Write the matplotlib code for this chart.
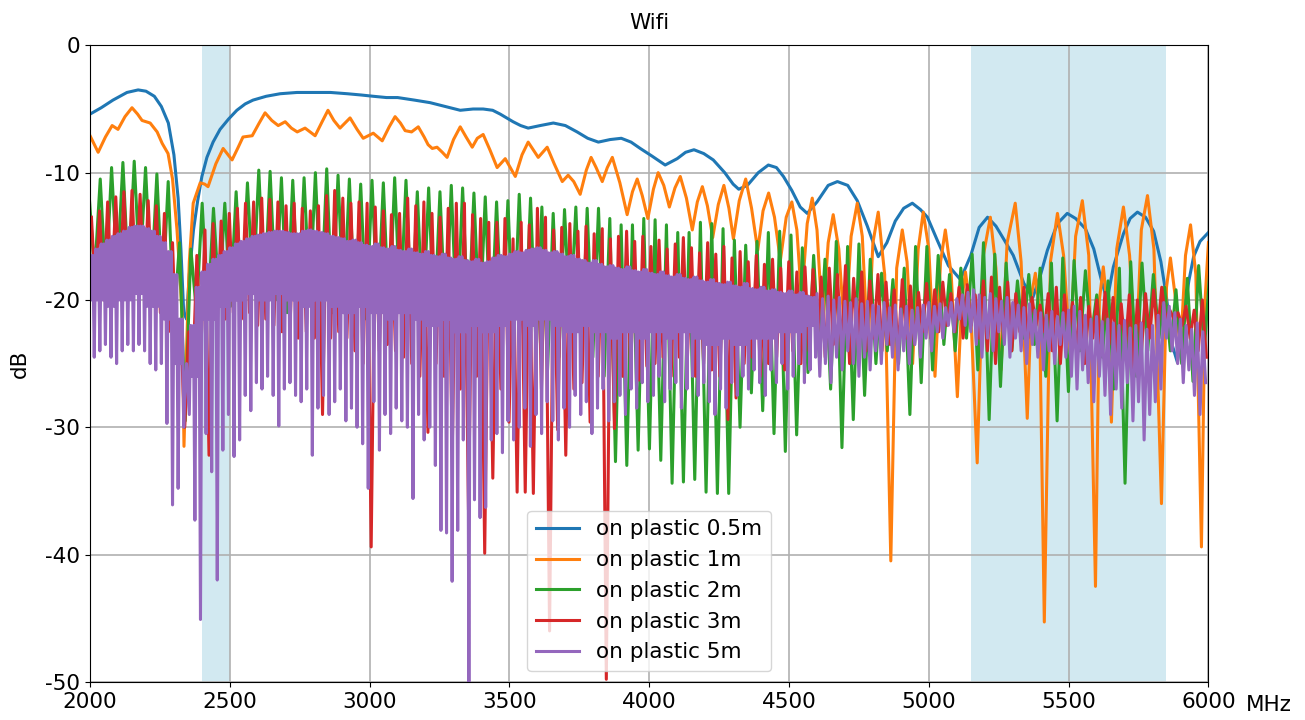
import matplotlib
matplotlib.use('Agg')
import matplotlib.pyplot as plt
import numpy as np

# ---- data (MHz, dB) ----
blue_freq = [2000, 2040, 2082, 2132, 2172, 2200, 2230, 2255, 2280, 2300, 2315, 2325, 2335, 2345, 2355,
             2370, 2385, 2400, 2418, 2440, 2465, 2495, 2525, 2555, 2583, 2630, 2680, 2740, 2800, 2860,
             2920, 2970, 3013, 3060, 3100, 3160, 3216, 3270, 3324, 3370, 3406, 3440, 3467, 3490, 3513,
             3540, 3567, 3610, 3657, 3700, 3742, 3780, 3818, 3860, 3900, 3935, 3968, 4010, 4057, 4100,
             4130, 4160, 4195, 4229, 4270, 4300, 4320, 4351, 4390, 4426, 4455, 4480, 4510, 4540, 4565,
             4600, 4640, 4673, 4710, 4744, 4780, 4819, 4850, 4880, 4910, 4941, 4970, 4995, 5030, 5070,
             5113, 5150, 5180, 5210, 5240, 5270, 5302, 5340, 5372, 5400, 5424, 5460, 5495, 5525, 5560,
             5590, 5620, 5638, 5660, 5696, 5720, 5746, 5775, 5804, 5830, 5850, 5870, 5889, 5910, 5930,
             5947, 5970, 6000]
blue_db = [-5.4, -4.9, -4.3, -3.7, -3.5, -3.6, -4.0, -4.8, -6.1, -8.6, -12.0, -16.0, -21.0, -21.5, -18.0,
           -14.5, -12.2, -10.3, -8.8, -7.6, -6.6, -5.8, -5.1, -4.6, -4.3, -4.0, -3.8, -3.7, -3.7, -3.7,
           -3.8, -3.9, -4.0, -4.1, -4.1, -4.3, -4.5, -4.8, -5.1, -5.0, -5.0, -5.1, -5.4, -5.7, -6.0,
           -6.3, -6.5, -6.3, -6.1, -6.3, -6.8, -7.3, -7.6, -7.4, -7.3, -7.6, -8.1, -8.7, -9.4, -8.9,
           -8.4, -8.2, -8.5, -9.0, -10.0, -10.9, -11.3, -11.0, -10.0, -9.4, -9.6, -10.3, -11.4, -12.7, -13.2,
           -12.3, -11.0, -10.7, -11.0, -12.2, -14.2, -16.6, -15.5, -13.8, -12.8, -12.4, -12.9, -13.5, -15.3, -17.3,
           -18.4, -16.5, -14.3, -13.5, -14.2, -15.3, -16.5, -18.7, -19.8, -18.0, -16.1, -14.0, -13.2, -13.6, -14.4,
           -16.0, -18.7, -20.0, -17.4, -14.8, -13.6, -13.1, -13.5, -14.6, -17.0, -19.8, -23.5, -24.9, -21.5, -18.5,
           -16.6, -15.4, -14.7]

orange_freq = [2000, 2029, 2055, 2079, 2100, 2125, 2150, 2170, 2186, 2215, 2240, 2258, 2279, 2295, 2311,
               2320, 2329, 2336, 2345, 2355, 2369, 2394, 2410, 2422, 2450, 2476, 2508, 2530, 2547, 2580,
               2605, 2626, 2650, 2673, 2698, 2720, 2741, 2769, 2805, 2830, 2851, 2872, 2894, 2930, 2955,
               2977, 3013, 3045, 3070, 3091, 3110, 3127, 3150, 3174, 3195, 3209, 3224, 3241, 3260, 3277,
               3300, 3324, 3345, 3367, 3385, 3406, 3430, 3456, 3485, 3521, 3545, 3567, 3585, 3603, 3635,
               3660, 3689, 3710, 3730, 3753, 3775, 3792, 3810, 3832, 3850, 3868, 3895, 3921, 3940, 3957,
               3975, 3995, 4015, 4032, 4052, 4072, 4092, 4111, 4133, 4154, 4172, 4190, 4208, 4227, 4247,
               4267, 4285, 4301, 4322, 4345, 4366, 4388, 4407, 4427, 4448, 4469, 4490, 4510, 4528, 4545,
               4565, 4583, 4600, 4620, 4640, 4658, 4678, 4700, 4722, 4744, 4762, 4782, 4800, 4819, 4842,
               4864, 4885, 4905, 4922, 4942, 4962, 4980, 5000, 5022, 5042, 5059, 5080, 5102, 5118, 5131,
               5150, 5173, 5195, 5220, 5240, 5258, 5280, 5309, 5330, 5352, 5368, 5381, 5396, 5413, 5435,
               5460, 5482, 5505, 5525, 5549, 5572, 5596, 5610, 5624, 5638, 5653, 5672, 5696, 5718, 5740,
               5760, 5782, 5805, 5832, 5850, 5864, 5880, 5900, 5918, 5936, 5955, 5975, 5988, 6000]
orange_db = [-7.1, -8.4, -7.2, -6.3, -6.6, -5.6, -4.9, -5.4, -5.9, -6.1, -6.8, -7.7, -8.5, -10.5, -14.5,
             -17.5, -21.0, -31.5, -24.0, -17.0, -12.4, -10.8, -10.9, -11.1, -9.3, -8.1, -9.0, -8.0, -7.2, -7.1,
             -6.1, -5.3, -5.9, -6.3, -6.0, -6.5, -6.8, -6.5, -7.1, -6.0, -5.1, -5.9, -6.5, -5.7, -6.6,
             -7.3, -6.9, -7.5, -6.4, -5.6, -6.1, -6.7, -6.8, -6.4, -7.2, -7.8, -8.1, -8.0, -8.4, -8.8,
             -7.4, -6.4, -7.2, -8.0, -7.3, -7.0, -8.2, -9.6, -8.9, -10.3, -8.6, -7.6, -8.2, -8.8, -8.0,
             -9.3, -10.7, -10.2, -10.7, -11.7, -9.8, -8.8, -9.6, -10.7, -9.6, -8.8, -10.8, -13.3, -11.5, -10.5,
             -11.8, -13.6, -11.3, -10.0, -11.0, -12.7, -11.2, -10.3, -12.0, -14.5, -12.3, -11.1, -12.6, -15.1, -12.5,
             -11.0, -12.8, -15.2, -12.2, -10.5, -12.8, -16.1, -13.0, -11.6, -13.5, -16.9, -13.5, -12.3, -14.5, -20.0,
             -14.0, -12.0, -14.5, -22.0, -15.5, -13.3, -16.0, -23.0, -15.0, -12.4, -15.0, -24.0, -15.5, -13.1, -18.0,
             -40.5, -17.5, -14.5, -17.0, -25.0, -16.0, -13.1, -16.0, -26.0, -17.0, -14.5, -18.0, -27.6, -20.0, -17.8,
             -21.0, -32.8, -16.5, -13.5, -17.5, -25.5, -15.5, -12.4, -17.0, -29.3, -19.5, -17.9, -21.0, -45.3, -17.0,
             -13.2, -16.5, -24.0, -15.0, -12.2, -16.5, -42.5, -20.0, -17.4, -20.5, -29.6, -16.0, -12.7, -16.5, -25.0,
             -14.5, -11.8, -16.0, -36.0, -19.0, -16.7, -19.5, -24.0, -16.5, -14.1, -18.0, -39.4, -20.0, -15.5]

# dense ripples: one peak and one trough per ripple period
green_start, green_period = 1996, 40.5
green_peaks = [-11.5, -10.5, -9.6, -9.2, -9.1, -9.6, -10.1, -10.7, -15.5, -16.0,
               -12.4, -12.8, -12.4, -11.5, -10.8, -9.8, -9.9, -10.4, -10.6, -10.4,
               -10.0, -9.7, -10.2, -10.5, -10.9, -10.6, -10.8, -10.4, -10.6, -11.5,
               -11.2, -11.5, -11.0, -11.2, -11.6, -11.9, -12.3, -12.2, -11.7, -12.0,
               -12.7, -13.2, -12.9, -12.7, -12.8, -12.8, -13.6, -14.1, -14.1, -13.6,
               -13.7, -14.1, -14.7, -14.7, -13.9, -14.0, -14.4, -15.3, -15.7, -15.4,
               -14.7, -14.6, -14.9, -15.9, -16.5, -16.8, -15.4, -15.8, -15.6, -16.8,
               -17.9, -18.4, -17.5, -15.8, -15.8, -16.5, -18.0, -17.5, -16.4, -15.5,
               -16.4, -17.1, -18.5, -18.0, -17.5, -17.1, -16.7, -16.9, -17.7, -19.6,
               -18.5, -17.5, -17.0, -17.1, -18.0, -19.0, -19.2, -18.3, -17.3, -17.5]
green_troughs = [-18.0, -19.0, -18.0, -18.5, -18.0, -19.0, -20.0, -22.0, -29.5, -21.0,
                 -21.0, -20.0, -20.5, -20.0, -19.5, -20.0, -20.0, -21.0, -20.5, -20.0,
                 -20.5, -21.0, -21.0, -21.0, -21.5, -21.0, -21.5, -21.0, -21.5, -22.0,
                 -22.0, -22.0, -22.5, -22.0, -22.5, -23.0, -23.0, -23.5, -23.0, -24.0,
                 -25.5, -24.5, -22.0, -25.0, -24.5, -26.0, -32.7, -33.0, -31.8, -31.7,
                 -32.6, -34.4, -34.3, -34.1, -35.1, -35.2, -35.2, -30.0, -27.3, -28.7,
                 -30.5, -31.9, -30.6, -25.7, -24.5, -27.0, -31.6, -29.4, -27.5, -25.0,
                 -24.0, -25.0, -29.0, -26.5, -25.5, -23.5, -24.0, -23.0, -25.5, -29.4,
                 -26.8, -24.0, -23.0, -23.5, -26.0, -29.5, -27.2, -24.0, -23.0, -24.5,
                 -27.0, -34.4, -26.0, -24.0, -23.0, -24.0, -25.0, -26.4, -24.0, -24.0]

red_start, red_period = 2005, 29.0
red_peaks = [-13.5, -13.0, -12.3, -11.9, -11.5, -11.4, -11.7, -12.2, -12.6, -13.2,
             -15.5, -22.0, -22.5, -16.5, -14.5, -14.0, -13.8, -13.2, -12.8, -12.4,
             -12.3, -12.0, -12.1, -12.3, -12.6, -12.4, -12.8, -13.0, -12.6, -11.8,
             -11.4, -12.0, -12.4, -12.3, -12.4, -12.7, -13.0, -13.3, -13.2, -12.0,
             -12.6, -12.3, -13.2, -13.5, -12.8, -12.4, -12.4, -13.3, -13.6, -13.9,
             -13.9, -13.6, -15.2, -13.9, -14.1, -12.8, -13.5, -14.5, -14.3, -14.0,
             -14.6, -14.2, -14.8, -14.4, -15.2, -15.0, -14.6, -15.4, -15.0, -15.8,
             -15.3, -16.0, -15.6, -15.1, -15.9, -16.3, -15.5, -16.4, -15.8, -16.7,
             -16.2, -17.0, -16.5, -17.2, -16.8, -17.5, -17.0, -17.8, -17.4, -17.6,
             -18.2, -17.5, -18.0, -17.3, -18.3, -17.8, -18.5, -18.0, -18.6, -19.2,
             -18.4, -18.9, -19.4, -18.7, -19.2, -18.6, -19.5, -19.0, -18.8, -19.6,
             -18.5, -18.2, -19.0, -18.6, -19.5, -19.0, -19.8, -20.4, -19.5, -19.0,
             -19.6, -20.2, -19.8, -20.5, -20.0, -19.4, -19.8, -20.3, -19.6, -20.0,
             -19.5, -19.2, -19.0, -20.8, -21.0, -20.5, -20.8, -20.0]
red_troughs = [-19.5, -20.0, -19.5, -19.0, -19.5, -19.0, -19.5, -20.0, -21.0, -22.5,
               -25.0, -30.0, -26.0, -24.0, -32.2, -22.0, -21.5, -21.0, -21.5, -21.0,
               -22.0, -21.5, -22.0, -22.5, -22.0, -23.0, -22.5, -23.0, -29.0, -23.0,
               -22.5, -23.0, -24.0, -25.0, -39.4, -24.0, -23.5, -24.0, -24.5, -25.0,
               -26.0, -30.4, -25.0, -26.0, -31.8, -27.0, -36.5, -26.0, -39.9, -34.0,
               -27.0, -29.6, -35.1, -35.1, -35.2, -27.0, -46.0, -30.2, -32.2, -27.0,
               -26.5, -29.6, -26.0, -49.8, -30.1, -26.0, -25.5, -26.3, -25.2, -25.0,
               -24.5, -26.0, -24.5, -24.6, -26.0, -25.0, -25.5, -26.0, -29.4, -27.7,
               -25.0, -24.5, -26.0, -25.0, -24.5, -25.5, -24.0, -25.0, -24.0, -23.5,
               -24.5, -23.5, -24.0, -25.0, -23.5, -24.0, -23.0, -24.0, -23.5, -24.0,
               -23.0, -23.5, -22.5, -23.0, -22.5, -22.0, -22.5, -23.0, -22.0, -23.0,
               -24.0, -25.0, -23.0, -24.0, -22.5, -23.0, -22.0, -22.5, -24.0, -25.0,
               -23.0, -24.0, -25.0, -23.0, -24.0, -23.5, -25.0, -24.0, -25.5, -24.0,
               -23.0, -22.5, -21.5, -21.5, -22.0, -23.0, -24.0, -24.5]

# purple: tops and one deep spike every 20 MHz; up to 4600 MHz an extra
# fast ripple down to a floor (read per 50 MHz) fills the band
purple_start, purple_period = 2000, 20.0
purple_peaks = [-16.5, -16.0, -15.6, -15.3, -15.0, -14.8, -14.6, -14.3, -14.2, -14.2,
                -14.4, -14.6, -15.0, -15.5, -16.2, -18.0, -21.5, -27.0, -22.0, -19.0,
                -17.8, -17.2, -16.8, -16.5, -16.2, -15.9, -15.6, -15.4, -15.2, -15.0,
                -14.9, -14.8, -14.7, -14.6, -14.6, -14.7, -14.8, -14.8, -14.6, -14.5,
                -14.6, -14.7, -14.8, -15.0, -15.1, -15.2, -15.4, -15.3, -15.5, -15.7,
                -15.8, -15.6, -15.9, -16.0, -15.8, -16.1, -16.2, -16.0, -16.3, -16.4,
                -16.2, -16.5, -16.6, -16.4, -16.7, -16.8, -16.6, -16.9, -17.0, -16.8,
                -17.1, -17.0, -16.7, -16.5, -16.6, -16.4, -16.2, -16.3, -16.1, -16.0,
                -15.9, -16.1, -16.3, -16.2, -16.4, -16.6, -16.5, -16.8, -16.9, -17.1,
                -16.9, -17.2, -17.4, -17.3, -17.5, -17.6, -17.4, -17.7, -17.8, -17.6,
                -17.9, -18.0, -17.8, -18.1, -18.2, -18.0, -18.3, -18.4, -18.2, -18.5,
                -18.6, -18.4, -18.7, -18.8, -18.6, -18.9, -19.0, -18.7, -19.1, -19.2,
                -19.0, -19.3, -19.2, -19.4, -19.5, -19.3, -19.6, -19.4, -19.7, -19.8,
                -19.5, -19.9, -19.7, -20.0, -19.8, -20.1, -20.2, -19.9, -20.3, -20.1,
                -20.4, -20.5, -20.2, -20.6, -20.4, -20.7, -20.5, -20.8, -20.6, -20.4,
                -20.2, -20.5, -20.3, -20.6, -20.2, -19.9, -19.6, -19.4, -19.2, -19.6,
                -19.8, -19.5, -19.9, -20.1, -19.8, -20.2, -20.4, -20.6, -20.3, -20.8,
                -21.0, -21.2, -20.9, -21.3, -21.0, -20.8, -20.5, -20.9, -21.2, -21.5,
                -21.3, -21.7, -21.5, -21.8, -22.0, -21.6, -22.2, -22.0, -21.8, -22.3,
                -22.0, -21.2, -20.2, -20.5, -21.0, -21.5, -22.0, -22.3, -21.8, -22.5]
purple_spikes = [-24.5, -24.0, -23.5, -24.5, -25.0, -24.0, -23.5, -24.0, -23.5, -24.0,
                 -25.0, -25.5, -25.0, -29.7, -36.1, -34.8, -30.0, -29.0, -37.3, -45.1,
                 -30.5, -33.5, -42.0, -31.8, -29.0, -32.3, -31.0, -27.5, -28.7, -26.5,
                 -27.0, -26.0, -27.5, -29.9, -27.0, -26.5, -27.5, -28.0, -27.0, -32.2,
                 -28.5, -27.5, -29.0, -28.0, -27.0, -29.5, -28.5, -30.0, -31.3, -34.8,
                 -28.0, -31.8, -29.0, -30.5, -28.5, -29.5, -30.0, -35.6, -29.0, -31.0,
                 -30.0, -33.0, -38.1, -38.3, -42.1, -38.1, -31.0, -50.0, -35.7, -37.1,
                 -36.3, -31.0, -30.5, -32.0, -29.5, -31.0, -30.0, -28.5, -31.5, -29.0,
                 -30.5, -28.0, -29.5, -31.0, -28.5, -30.0, -27.5, -29.0, -28.0, -30.5,
                 -28.5, -27.0, -29.5, -28.0, -27.5, -29.0, -27.0, -28.5, -26.5, -28.0,
                 -27.5, -26.0, -28.0, -27.0, -26.5, -28.5, -27.0, -26.0, -27.5, -26.5,
                 -28.0, -29.0, -27.0, -28.5, -26.5, -27.5, -26.0, -27.0, -25.5, -26.5,
                 -27.5, -25.5, -26.5, -25.0, -27.0, -26.0, -25.0, -26.5, -25.5, -24.5,
                 -26.0, -25.0, -26.5, -24.5, -25.5, -24.0, -25.0, -26.0, -24.5, -25.5,
                 -24.0, -25.0, -23.5, -24.5, -25.5, -24.0, -25.0, -23.5, -24.5, -23.0,
                 -24.0, -22.5, -23.0, -22.0, -22.5, -21.5, -22.0, -22.5, -23.5, -24.5,
                 -23.0, -24.0, -22.5, -23.5, -24.5, -23.0, -24.0, -25.0, -23.5, -24.5,
                 -25.5, -24.0, -25.0, -23.5, -24.5, -26.0, -27.0, -25.5, -26.5, -28.0,
                 -26.0, -27.5, -29.0, -27.0, -28.5, -26.5, -29.5, -28.0, -31.0, -29.0,
                 -28.0, -27.0, -23.0, -24.0, -25.0, -26.5, -25.5, -27.5, -29.0, -26.5]
purple_floor = [-20.0, -20.5, -20.0, -19.5, -20.5, -21.5, -25.0, -26.0, -21.5, -20.5,
                -20.0, -19.5, -20.0, -19.5, -20.0, -20.5, -20.0, -20.5, -21.0, -20.5,
                -21.0, -21.5, -21.0, -21.5, -22.0, -21.5, -22.5, -22.0, -22.5, -22.0,
                -21.5, -22.0, -21.5, -22.0, -22.5, -22.0, -22.5, -23.0, -22.5, -23.0,
                -22.5, -23.0, -22.5, -23.0, -23.5, -23.0, -23.5, -23.0, -23.0, -22.5,
                -22.5, -22.0]

labels = ['on plastic 0.5m', 'on plastic 1m', 'on plastic 2m', 'on plastic 3m', 'on plastic 5m']
bands = [(2400, 2500), (5150, 5850)]


def ripple(start, period, peaks, troughs):
    # put each peak and the trough that follows it in frequency order
    n = min(len(peaks), len(troughs))
    f = np.empty(2 * n)
    v = np.empty(2 * n)
    f[0::2] = start + period * np.arange(n)
    f[1::2] = f[0::2] + period / 2
    v[0::2] = peaks[:n]
    v[1::2] = troughs[:n]
    return f, v


def dense_ripple(start, period, peaks, spikes, floor, floor_step=50.0):
    # per period: top, floor, top, spike (floor only where it was read)
    f, v = [], []
    for i, (top, low) in enumerate(zip(peaks, spikes)):
        f0 = start + period * i
        k = int((f0 - start) // floor_step)
        if k < len(floor):
            vals = [top, floor[k], top, low]
        else:
            vals = [top, low]
        for j, val in enumerate(vals):
            f.append(f0 + j * period / len(vals))
            v.append(val)
    return np.array(f), np.array(v)


plt.rcParams['axes.unicode_minus'] = False
plt.rcParams['font.family'] = 'DejaVu Sans'
plt.rcParams['font.size'] = 15.5

fig, ax = plt.subplots(figsize=(13.05, 7.2), dpi=100)
fig.subplots_adjust(left=0.069, right=0.926, top=0.937, bottom=0.053)

for lo, hi in bands:
    ax.axvspan(lo, hi, color='lightblue', alpha=0.55, lw=0, zorder=0.5)

lw = 2.2
ax.plot(blue_freq, blue_db, color='tab:blue', lw=lw, label=labels[0])
ax.plot(orange_freq, orange_db, color='tab:orange', lw=lw, label=labels[1])
gf, gv = ripple(green_start, green_period, green_peaks, green_troughs)
ax.plot(gf, gv, color='tab:green', lw=lw, label=labels[2])
rf, rv = ripple(red_start, red_period, red_peaks, red_troughs)
ax.plot(rf, rv, color='tab:red', lw=lw, label=labels[3])
pf, pv = dense_ripple(purple_start, purple_period, purple_peaks, purple_spikes, purple_floor)
ax.plot(pf, pv, color='tab:purple', lw=lw, label=labels[4])

ax.set_xlim(2000, 6000)
ax.set_ylim(-50, 0)
ax.set_xticks(range(2000, 6001, 500))
ax.set_yticks(range(-50, 1, 10))
ax.grid(True, color='#b0b0b0', lw=1.2)
ax.set_title('Wifi', fontsize=15.5, pad=12)
ax.set_ylabel('dB', labelpad=11)
ax.text(1.054, -0.036, 'MHz', transform=ax.transAxes, ha='center', va='center')

ax.legend(loc='lower center')

fig.savefig('out.png', dpi=100)
